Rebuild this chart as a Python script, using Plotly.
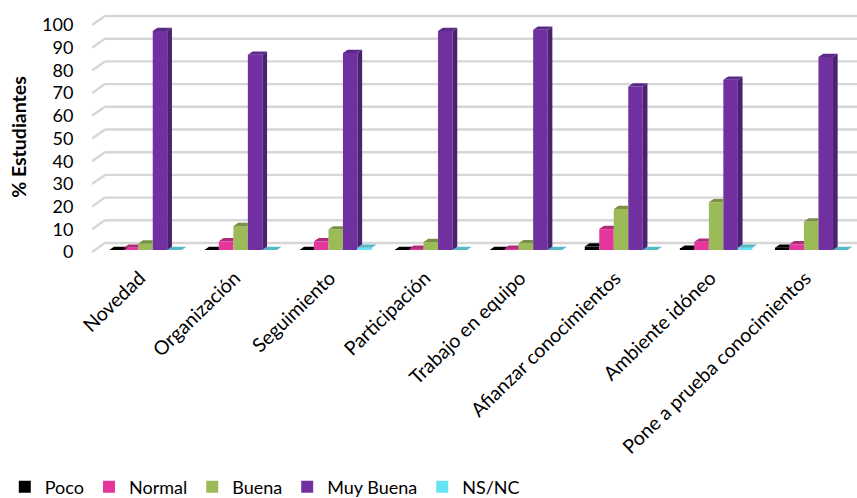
import plotly.graph_objects as go

categories = ["Novedad", "Organización", "Seguimiento", "Participación", "Trabajo en equipo",
              "Afianzar conocimientos", "Ambiente idóneo", "Pone a prueba conocimientos"]
poco = [0, 0, 0, 0, 0, 1.5, 0.5, 1]
normal = [1, 3.8, 3.8, 0.5, 0.5, 9.2, 3.6, 2.5]
buena = [2.8, 10.5, 9, 3.5, 3, 18, 21, 12.5]
muy_buena = [96.5, 86, 86.8, 96.5, 97, 72, 75, 85]
ns_nc = [0, 0, 1, 0, 0, 0, 1, 0]
y_ticks = list(range(0, 101, 10))

series = [("Poco", poco, "#000000", "#000000", "#000000"),
          ("Normal", normal, "#e4369c", "#b02c7a", "#a0266e"),
          ("Buena", buena, "#9bbb59", "#7c8f45", "#6f8040"),
          ("Muy Buena", muy_buena, "#7030a0", "#5a2a87", "#4a2270"),
          ("NS/NC", ns_nc, "#66e3f2", "#55b9c6", "#4aa5b0")]

W, H = 857, 498
L, R, T, B = 92, 0, 12, 236
PX_X = 95.1                # px per category
PX_Y = 2.27                # px per percentage point
X0 = 145.5                 # px of first category centre
Y0 = 250                   # px of value 0 at the bars' front
BAR = 14.5 / PX_X
DX = 4.7 / PX_X
DY = 3.3 / PX_Y
WALL_DY = 7 / PX_Y         # back wall rise
FRONT_DY = -2 / PX_Y       # front edge of floor, where tick labels sit
WALL_DX = 13 / PX_X
LABEL_SHIFT = 0.06

x_rng = [(L - X0) / PX_X, (W - R - X0) / PX_X]
y_rng = [-(H - B - Y0) / PX_Y, (Y0 - T) / PX_Y]
cat_x = list(range(len(categories)))

fig = go.Figure()

# walls / grid lines, below the traces
for v in y_ticks:
    grid = dict(color="#d6d6d6", width=2.4)
    fig.add_shape(type="line", layer="below", xref="x", yref="y", line=grid,
                  x0=x_rng[0], x1=x_rng[0] + WALL_DX, y0=v + FRONT_DY, y1=v + WALL_DY)
    fig.add_shape(type="line", layer="below", xref="x", yref="y", line=grid,
                  x0=x_rng[0] + WALL_DX, x1=x_rng[1], y0=v + WALL_DY, y1=v + WALL_DY)

for name, vals, c, _, _ in series:
    fig.add_trace(go.Bar(x=cat_x, y=vals, name=name, marker=dict(color=c, line=dict(width=0))))

# 3-D faces, computed from values; hidden portions clipped against the next bar
purple_top = None
for s, (name, vals, c, top_c, side_c) in enumerate(series):
    nxt = series[s + 1][1] if s + 1 < len(series) else [0] * len(vals)
    tx, ty, sx, sy = [], [], [], []
    for i, v in enumerate(vals):
        x0 = i + (s - 2.5) * BAR
        x1 = x0 + BAR
        if nxt[i] >= v + DY:
            tx += [x0, x1, x1, x0 + DX, x0, None]
            ty += [v, v, v + DY, v + DY, v, None]
        else:
            tx += [x0, x1, x1 + DX, x0 + DX, x0, None]
            ty += [v, v, v + DY, v + DY, v, None]
            if v > nxt[i]:
                sx += [x1, x1 + DX, x1 + DX, x1, x1, None]
                sy += [nxt[i], nxt[i] + DY, v + DY, v, nxt[i], None]
    if s != 3:
        fig.add_trace(go.Scatter(x=tx, y=ty, mode="lines", fill="toself", fillcolor=top_c,
                                 line=dict(width=0, color=top_c), showlegend=False, hoverinfo="skip"))
    if s == 3:
        purple_top = (tx, ty, top_c, sx, sy, side_c)

# cyan faces sit behind the purple bar's side: draw the purple faces last
fig.add_trace(go.Scatter(x=purple_top[3], y=purple_top[4], mode="lines", fill="toself",
                         fillcolor=purple_top[5], line=dict(width=0, color=purple_top[5]),
                         showlegend=False, hoverinfo="skip"))
fig.add_trace(go.Scatter(x=purple_top[0], y=purple_top[1], mode="lines", fill="toself",
                         fillcolor=purple_top[2], line=dict(width=0, color=purple_top[2]),
                         showlegend=False, hoverinfo="skip"))

fig.update_layout(
    width=W, height=H, margin=dict(l=L, r=R, t=T, b=B, pad=0, autoexpand=False),
    paper_bgcolor="white", plot_bgcolor="white",
    barmode="group", bargap=1 - 5 * BAR, bargroupgap=0,
    font=dict(family="Lato", size=18, color="black"),
    xaxis=dict(range=x_rng, tickmode="array", tickvals=[i - LABEL_SHIFT for i in cat_x], ticktext=categories,
               tickangle=-44, showgrid=False, zeroline=False, showline=False, ticks="",
               tickfont=dict(size=19.5)),
    yaxis=dict(range=y_rng, tickmode="array", tickvals=[v + FRONT_DY for v in y_ticks],
               ticktext=[str(v) for v in y_ticks], showgrid=False, zeroline=False, showline=False,
               ticks="outside", ticklen=14, tickcolor="rgba(0,0,0,0)", tickfont=dict(size=18),
               title=dict(text="<b>% Estudiantes</b>", font=dict(size=19.5), standoff=10)),
    legend=dict(orientation="h", x=-0.114, xanchor="left", y=-0.9,
                yanchor="middle", font=dict(size=18), traceorder="normal", itemwidth=30),
)
fig.write_html("out.html", post_script="document.body.style.margin='0';",
               config=dict(displayModeBar=False))
